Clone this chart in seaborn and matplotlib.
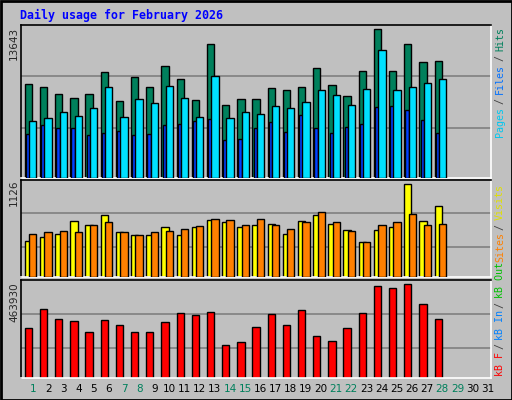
import matplotlib
matplotlib.use("Agg")
import matplotlib.pyplot as plt
import seaborn as sns
import numpy as np

days = list(range(1, 29))
hits = [8643, 8366, 7717, 7347, 7717, 9662, 7069, 9291, 8366, 10218, 9106, 7162, 12255, 6699,
        7254, 7254, 8273, 8088, 8366, 10032, 8551, 7532, 9755, 13643, 9755, 12255, 10588, 10681]
files = [5217, 5495, 6050, 5680, 6421, 8366, 5587, 7254, 6884, 8458, 7347, 5587, 9384, 5495,
         6050, 5865, 6606, 6421, 6976, 8088, 7625, 6699, 8180, 11699, 8088, 8366, 8736, 9106]
pages = [4013, 4846, 4569, 4569, 3920, 4106, 4291, 3920, 4013, 4846, 4939, 5217, 5402, 3457,
         3550, 4569, 5124, 4198, 5772, 4569, 4106, 4661, 4939, 6513, 6606, 6235, 5309, 4106]
visits = [443, 492, 528, 675, 626, 748, 553, 516, 516, 602, 516, 602, 687, 663,
          602, 638, 650, 528, 675, 748, 650, 577, 431, 577, 602, 1126, 675, 858]
sites = [528, 553, 565, 553, 626, 663, 541, 516, 553, 565, 589, 614, 711, 687,
         638, 711, 638, 589, 663, 785, 663, 565, 431, 638, 663, 760, 626, 650]
kbytes = [245485, 341986, 291196, 281038, 230248, 286117, 260722, 230248, 230248, 275959,
          321670, 311512, 326749, 164221, 179458, 250564, 316591, 260722, 336907, 209932,
          184537, 245485, 321670, 453724, 448645, 463930, 367381, 291196]
tick_days = list(range(1, 32))
weekend = {1, 7, 8, 14, 15, 21, 22, 28, 29}

sns.set_style("white")
plt.rcParams['font.family'] = ['DejaVu Sans Mono', 'DejaVu Sans']
W, H = 512, 400
fig = plt.figure(figsize=(W/100, H/100), dpi=100, facecolor="#C0C0C0")
fig.add_artist(plt.Rectangle((0.5/W, 0.5/H), 1-1/W, 1-1/H, transform=fig.transFigure,
                             fill=False, ec="black", lw=2))

def ax_px(x0, y0, x1, y1):
    return fig.add_axes([x0/W, 1-y1/H, (x1-x0)/W, (y1-y0)/H])

def style(ax, ymax, grids):
    ax.set_facecolor("#C0C0C0")
    ax.set_xlim(0.5, 31.5)
    ax.set_ylim(0, ymax)
    for g in grids:
        ax.axhline(g, color="#808080", lw=1.2, zorder=0.5)
    for s in ["left", "top"]:
        ax.spines[s].set_color("black")
    for s in ["right", "bottom"]:
        ax.spines[s].set_color("white")
    for s in ax.spines.values():
        s.set_linewidth(1.2)
    ax.set_xticks([]); ax.set_yticks([])

x = np.array(days, dtype=float)
ek = dict(edgecolor="black", linewidth=1)

ax1 = ax_px(20.5, 25, 491, 178)
style(ax1, 14012, [4609, 9310])
ax1.bar(x - 0.22, hits, width=0.48, align="edge", color="#00805C", zorder=2, **ek)
ax1.bar(x - 0.14, pages, width=0.24, align="edge", color="#0040FF", zorder=3, **ek)
ax1.bar(x + 0.07, files, width=0.48, align="edge", color="#00E0FF", zorder=4, **ek)

ax2 = ax_px(20.5, 180, 491, 277)
style(ax2, 1179, [370, 772])
ax2.bar(x - 0.22, visits, width=0.48, align="edge", color="#FFFF00", zorder=2, **ek)
ax2.bar(x + 0.07, sites, width=0.48, align="edge", color="#FF8000", zorder=3, **ek)

ax3 = ax_px(20.5, 280, 491, 378)
style(ax3, 485941, [149000, 316627])
ax3.bar(x - 0.22, kbytes, width=0.48, align="edge", color="#FF0000", zorder=2, **ek)

for d in tick_days:
    fig.text((20.7 + (d - 0.5 + 0.31) * 15.16) / W, 1 - 389/H, str(d),
             color="#00805C" if d in weekend else "black", ha="center", va="center", fontsize=7.5,
             family="DejaVu Sans")

fig.text(20/W, 1-15/H, "Daily usage for February 2026", color="#0000FF", fontweight="bold",
         fontsize=8.4, ha="left", va="center")

for lab, ytop in [("13643", 27), ("1126", 180), ("463930", 282)]:
    fig.text(14/W, 1-ytop/H, lab, rotation=90, ha="center", va="top", fontsize=7.5,
             family="DejaVu Sans")

def vlabel(parts, ybottom, step):
    y = ybottom
    for txt, col in parts:
        fig.text(500/W, 1-y/H, txt, rotation=90, color=col, ha="center", va="bottom",
                 fontsize=7.2)
        y -= step * len(txt)

vlabel([("Pages", "#00C8F0"), (" / ", "#404040"), ("Files", "#0070FF"), (" / ", "#404040"),
        ("Hits", "#00805C")], 137, 5.4)
vlabel([("kB F", "#FF0000"), (" / ", "#404040"), ("kB In", "#0080FF"), (" / ", "#404040"),
        ("kB Out", "#00C000"), (" ", "#404040"), ("Sites", "#FF8000"), (" / ", "#404040"),
        ("Visits", "#E0E000")], 376, 5.2)

fig.savefig("out.png", dpi=100, facecolor=fig.get_facecolor())
